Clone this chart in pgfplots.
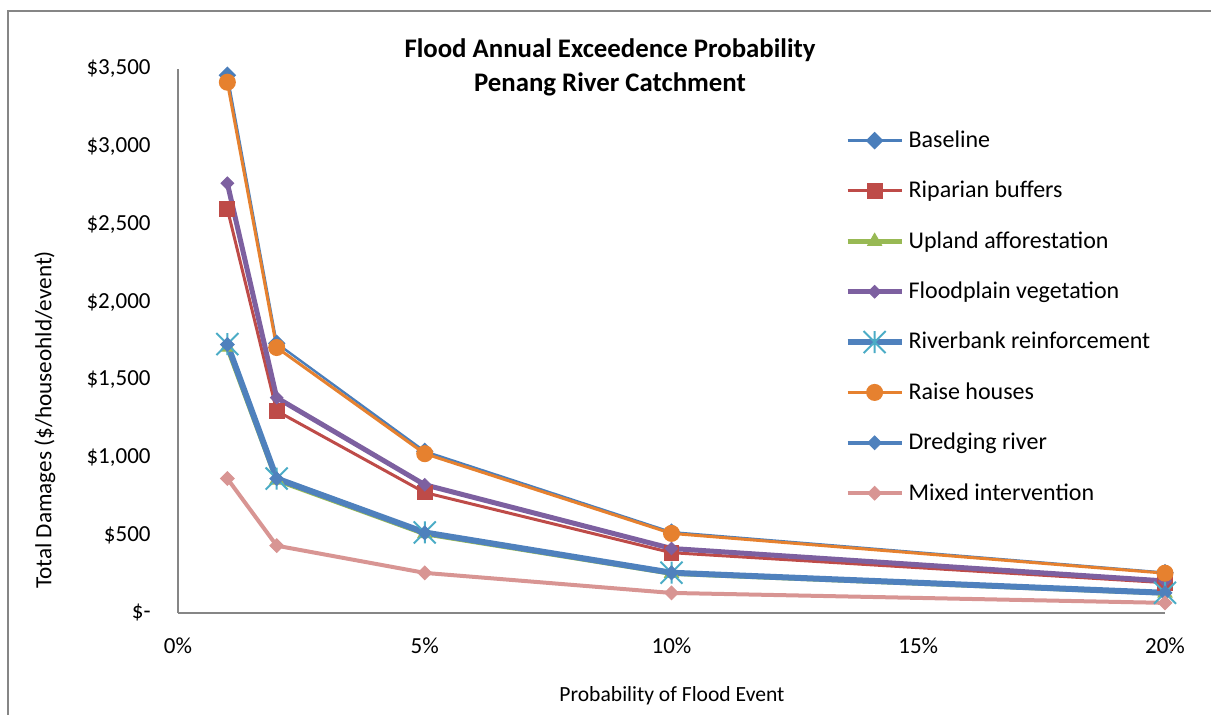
\documentclass[border=0pt]{standalone}
\usepackage{fontspec}
\setmainfont{Carlito}
\usepackage{pgfplots}
\pgfplotsset{compat=1.18}

\definecolor{cBase}{HTML}{4A7EBB}
\definecolor{cBlue}{HTML}{4F81BD}
\definecolor{cRip}{HTML}{BE4B48}
\definecolor{cUp}{HTML}{98B954}
\definecolor{cFlood}{HTML}{7D60A0}
\definecolor{cStar}{HTML}{4BACC6}
\definecolor{cRaise}{HTML}{E6812F}
\definecolor{cMix}{HTML}{D89593}
\definecolor{cAxis}{HTML}{868686}

% Excel-style star: an X with a vertical bar
\pgfdeclareplotmark{xlstar}{%
  \pgfpathmoveto{\pgfqpoint{-\pgfplotmarksize}{-\pgfplotmarksize}}%
  \pgfpathlineto{\pgfqpoint{\pgfplotmarksize}{\pgfplotmarksize}}%
  \pgfpathmoveto{\pgfqpoint{-\pgfplotmarksize}{\pgfplotmarksize}}%
  \pgfpathlineto{\pgfqpoint{\pgfplotmarksize}{-\pgfplotmarksize}}%
  \pgfpathmoveto{\pgfqpoint{0pt}{-\pgfplotmarksize}}%
  \pgfpathlineto{\pgfqpoint{0pt}{\pgfplotmarksize}}%
  \pgfusepathqstroke}

\begin{document}
\begin{tikzpicture}
\path[use as bounding box] (0,0) rectangle (605.5pt,357.5pt);
\draw[cAxis, line width=0.75pt] (4pt,0) -- (4pt,352pt) -- (605.5pt,352pt);

\node[font=\bfseries\fontsize{13.4}{15}\selectfont] at (305pt,332.5pt) {Flood Annual Exceedence Probability};
\node[font=\bfseries\fontsize{13.4}{15}\selectfont] at (305pt,315.5pt) {Penang River Catchment};
\node[rotate=90, font=\fontsize{11.6}{13}\selectfont] at (22.5pt,147.5pt) {Total Damages (\$/houseohld/event)};
\node[font=\fontsize{10.8}{13}\selectfont] at (336pt,9.5pt) {Probability of Flood Event};

\begin{axis}[
  at={(89pt,51pt)}, anchor=south west,
  scale only axis, width=493.5pt, height=272pt,
  xmin=0, xmax=20, ymin=0, ymax=3500,
  axis x line*=bottom, axis y line*=left,
  axis line style={cAxis, line width=0.75pt, -},
  major tick length=0pt,
  xtick={0,5,10,15,20},
  xticklabels={0\%,5\%,10\%,15\%,20\%},
  ytick={0,500,1000,1500,2000,2500,3000,3500},
  yticklabels={{\$-\hspace{5pt}},{\$500},{\$1,000},{\$1,500},{\$2,000},{\$2,500},{\$3,000},{\$3,500}},
  xticklabel style={anchor=north, inner sep=0pt, yshift=-12pt},
  yticklabel style={anchor=east, inner sep=0pt, xshift=-13.5pt},
  tick label style={font=\fontsize{11.5}{13}\selectfont},
  clip=false,
  legend cell align=left,
  legend style={at={(0.675,0.8945)}, anchor=north west, draw=none, fill=none,
    font=\fontsize{12}{14}\selectfont, row sep=11.35pt, inner sep=0pt},
  legend image code/.code={\draw[mark repeat=2,mark phase=2,#1]
    plot coordinates {(0pt,0pt)(13.5pt,0pt)(27pt,0pt)};},
]
\addplot[cBase, line width=1.2pt, mark=square*, mark size=2.5pt, mark options={rotate=45, solid}]
  coordinates {(1,3460)(2,1735)(5,1040)(10,520)(20,260)};
\addlegendentry{Baseline}
\addplot[cRip, line width=1.5pt, mark=square*, mark size=3.2pt]
  coordinates {(1,2600)(2,1300)(5,775)(10,388)(20,195)};
\addlegendentry{Riparian buffers}
\addplot[cUp, line width=2.5pt, mark=triangle*, mark size=4pt, mark options={line width=0.5pt}]
  coordinates {(1,1710)(2,855)(5,510)(10,255)(20,128)};
\addlegendentry{Upland afforestation}
\addplot[cFlood, line width=2.5pt, mark=square*, mark size=2.2pt, mark options={rotate=45, line width=0.5pt}]
  coordinates {(1,2765)(2,1385)(5,825)(10,415)(20,206)};
\addlegendentry{Floodplain vegetation}
\addplot[cBlue, line width=3pt, mark=xlstar, mark size=5.5pt, mark options={cStar, line width=1pt}]
  coordinates {(1,1730)(2,865)(5,518)(10,259)(20,130)};
\addlegendentry{Riverbank reinforcement}
\addplot[cRaise, line width=1.5pt, mark=*, mark size=3.5pt]
  coordinates {(1,3415)(2,1708)(5,1025)(10,512)(20,256)};
\addlegendentry{Raise houses}
\addplot[cBlue, line width=2pt, mark=square*, mark size=2.4pt, mark options={rotate=45, line width=0.5pt}]
  coordinates {(1,1728)(2,864)(5,516)(10,258)(20,129)};
\addlegendentry{Dredging river}
\addplot[cMix, line width=2pt, mark=square*, mark size=2.4pt, mark options={rotate=45, line width=0.5pt}]
  coordinates {(1,865)(2,433)(5,258)(10,129)(20,65)};
\addlegendentry{Mixed intervention}
\end{axis}
\end{tikzpicture}
\end{document}
